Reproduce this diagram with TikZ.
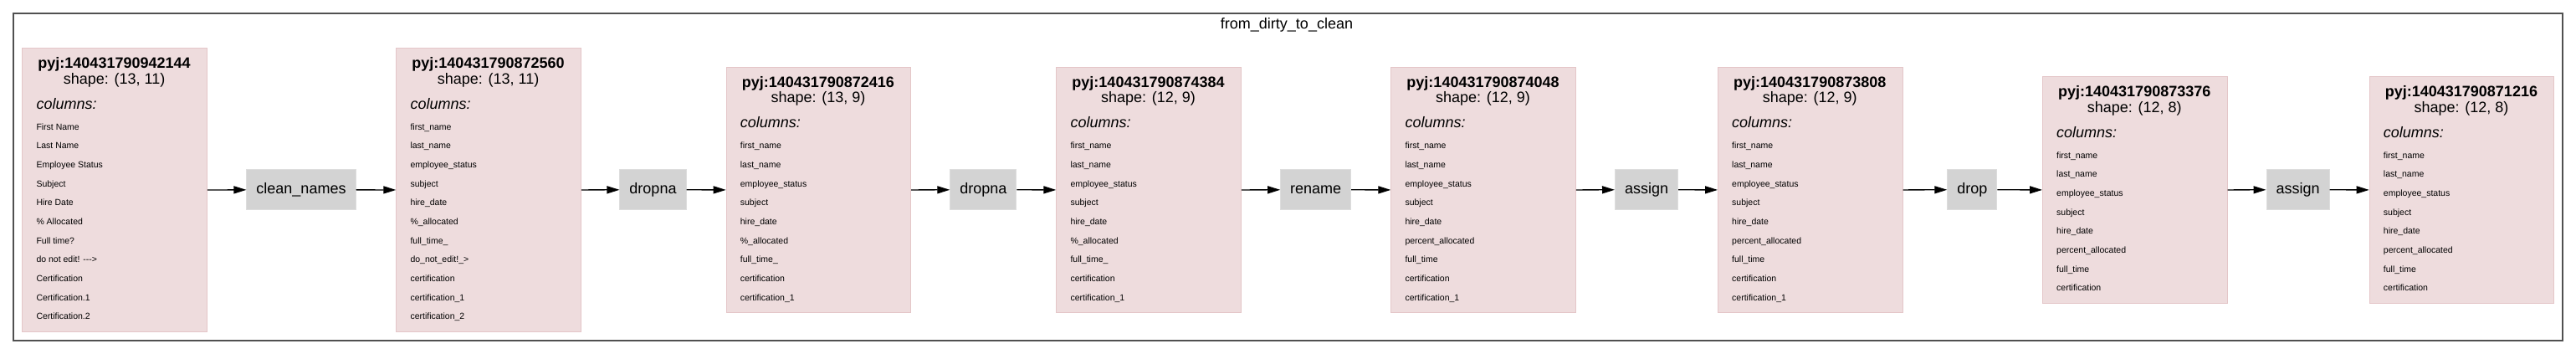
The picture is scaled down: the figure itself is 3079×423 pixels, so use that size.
\documentclass[tikz,border=0pt]{standalone}
\usepackage{fontspec}
\setmainfont{Liberation Sans}
\usetikzlibrary{arrows.meta}
\definecolor{boxfill}{HTML}{EEDCDD}
\definecolor{boxline}{HTML}{E4C6C8}
\definecolor{opfill}{HTML}{D3D3D3}
\definecolor{opline}{HTML}{DDDDDD}
\definecolor{frameline}{HTML}{505050}
\tikzset{
  dbox/.style={rectangle, draw=boxline, fill=boxfill, line width=1pt, minimum width=220.5pt, inner sep=0pt},
  ttl/.style={anchor=base, inner sep=0pt, font=\fontsize{18pt}{21pt}\selectfont\bfseries},
  shp/.style={anchor=base, inner sep=0pt, font=\fontsize{18pt}{21pt}\selectfont},
  colhead/.style={anchor=base west, inner sep=0pt, font=\fontsize{18pt}{21pt}\selectfont\itshape},
  itemtxt/.style={anchor=base west, inner sep=0pt, font=\fontsize{10.5pt}{12pt}\selectfont},
  opbox/.style={rectangle, draw=opline, fill=opfill, line width=1pt, minimum height=48pt, inner xsep=11.5pt, inner ysep=0pt, font=\fontsize{18pt}{21pt}\selectfont},
  flow/.style={line width=1.3pt, -{Triangle[length=15pt,width=9pt]}},
  framebox/.style={draw=frameline, line width=2pt},
  frametitle/.style={inner sep=0pt, font=\fontsize{18pt}{21pt}\selectfont}
}
\newcommand\databox[6]{%
  \pgfmathsetmacro\Hgt{112+22.67*(#3-1)}%
  \pgfmathsetmacro\Top{226.7-\Hgt/2}%
  \pgfmathsetmacro\Cx{#2+110.25}%
  \node[dbox, minimum height=\Hgt pt, anchor=north west] (#1) at (#2,\Top) {};
  \node[ttl] (#1-id) at (\Cx,\Top+24.4) {pyj:#4};
  \node[shp] (#1-shape) at (\Cx,\Top+42.7) {shape: #5};
  \node[colhead] (#1-cols) at (#2+17,\Top+72.7) {columns:};
  \foreach \itm [count=\k from 0] in {#6} {
    \node[itemtxt] (#1-r\k) at (#2+17,\Top+97.7+22.67*\k) {\itm};
  }%
}
\begin{document}
\begin{tikzpicture}[x=1pt,y=-1pt]
\useasboundingbox (0,0) rectangle (3079,423);
\draw[framebox] (16,16) rectangle (3063,407);
\node[frametitle] (title) at (1538,30) {from\_dirty\_to\_clean};

\databox{b1}{26.3}{11}{140431790942144}{(13, 11)}{First Name,Last Name,Employee Status,Subject,Hire Date,\% Allocated,Full time?,do not edit! -{}-{}->,Certification,Certification.1,Certification.2}
\databox{b2}{473.3}{11}{140431790872560}{(13, 11)}{first\_name,last\_name,employee\_status,subject,hire\_date,\%\_allocated,full\_time\_,do\_not\_edit!\_>,certification,certification\_1,certification\_2}
\databox{b3}{867.7}{9}{140431790872416}{(13, 9)}{first\_name,last\_name,employee\_status,subject,hire\_date,\%\_allocated,full\_time\_,certification,certification\_1}
\databox{b4}{1262.3}{9}{140431790874384}{(12, 9)}{first\_name,last\_name,employee\_status,subject,hire\_date,\%\_allocated,full\_time\_,certification,certification\_1}
\databox{b5}{1662.3}{9}{140431790874048}{(12, 9)}{first\_name,last\_name,employee\_status,subject,hire\_date,percent\_allocated,full\_time,certification,certification\_1}
\databox{b6}{2053}{9}{140431790873808}{(12, 9)}{first\_name,last\_name,employee\_status,subject,hire\_date,percent\_allocated,full\_time,certification,certification\_1}
\databox{b7}{2441}{8}{140431790873376}{(12, 8)}{first\_name,last\_name,employee\_status,subject,hire\_date,percent\_allocated,full\_time,certification}
\databox{b8}{2831.7}{8}{140431790871216}{(12, 8)}{first\_name,last\_name,employee\_status,subject,hire\_date,percent\_allocated,full\_time,certification}

\node[opbox] (op1) at (360,226.7) {clean\_names};
\node[opbox] (op2) at (780.5,226.7) {dropna};
\node[opbox] (op3) at (1175.3,226.7) {dropna};
\node[opbox] (op4) at (1572.7,226.7) {rename};
\node[opbox] (op5) at (1968,226.7) {assign};
\node[opbox] (op6) at (2357.3,226.7) {drop};
\node[opbox] (op7) at (2746.5,226.7) {assign};

\draw[flow] (b1) -- (op1);
\draw[flow] (op1) -- (b2);
\draw[flow] (b2) -- (op2);
\draw[flow] (op2) -- (b3);
\draw[flow] (b3) -- (op3);
\draw[flow] (op3) -- (b4);
\draw[flow] (b4) -- (op4);
\draw[flow] (op4) -- (b5);
\draw[flow] (b5) -- (op5);
\draw[flow] (op5) -- (b6);
\draw[flow] (b6) -- (op6);
\draw[flow] (op6) -- (b7);
\draw[flow] (b7) -- (op7);
\draw[flow] (op7) -- (b8);
\end{tikzpicture}
\end{document}
